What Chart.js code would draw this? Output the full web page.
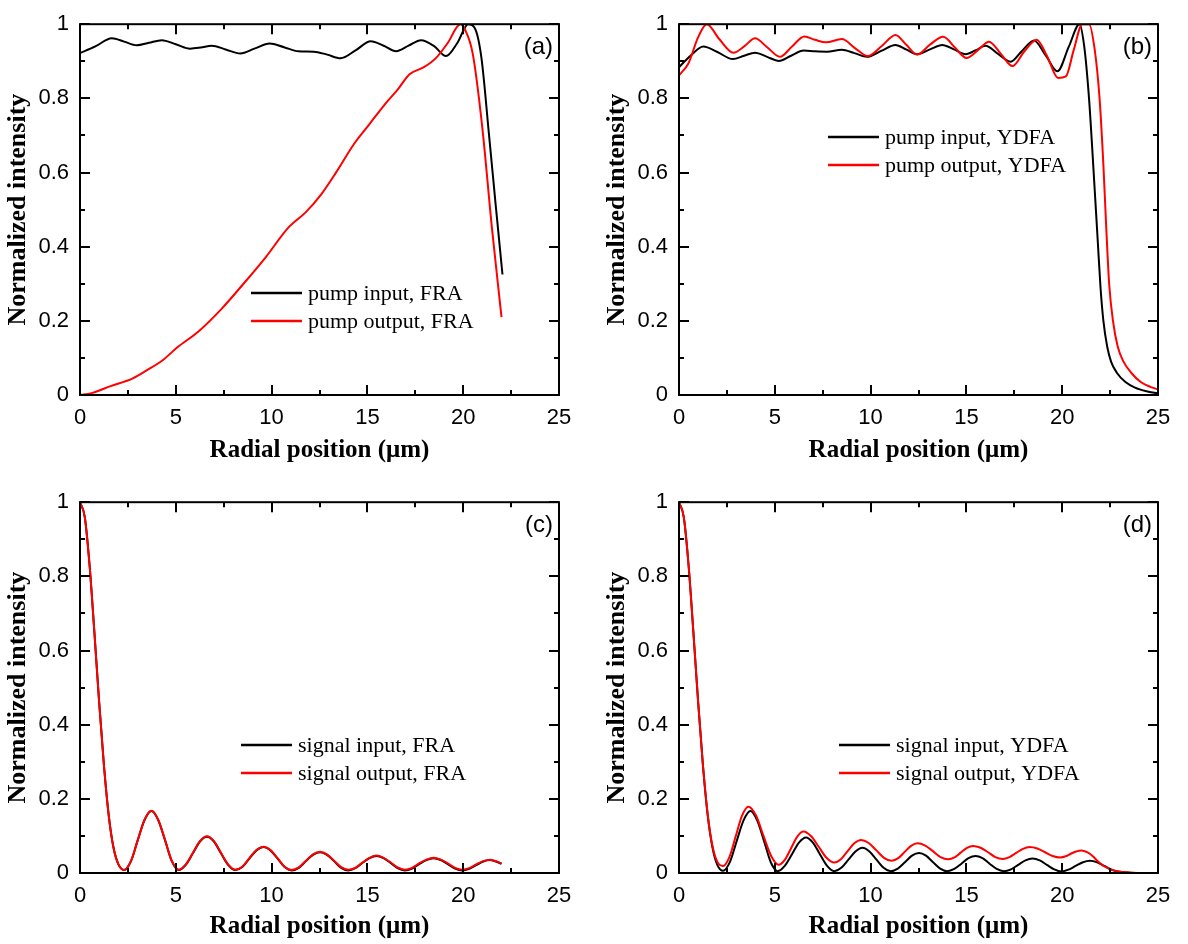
<!DOCTYPE html>
<html>
<head>
<meta charset="utf-8">
<script src="https://cdn.jsdelivr.net/npm/chart.js@4.4.1/dist/chart.umd.min.js"></script>
<style>
  body { margin: 0; background: #fff; }
  #wrap { position: relative; width: 1188px; height: 944px; overflow: hidden; }
  #wrap canvas { position: absolute; }
</style>
</head>
<body>
<div id="wrap">
  <canvas id="chartA" width="594" height="472" style="left:0;top:0"></canvas>
  <canvas id="chartB" width="589" height="472" style="left:599px;top:0"></canvas>
  <canvas id="chartC" width="594" height="466" style="left:0;top:478px"></canvas>
  <canvas id="chartD" width="589" height="466" style="left:599px;top:478px"></canvas>
</div>
<script>
// (a) pump, FRA
const pumpInFraR = [0, 0.8, 1.66, 2.3, 2.96, 3.6, 4.27, 5.0, 5.75, 6.3, 6.88, 7.6, 8.37, 9.1, 9.9, 10.65, 11.4, 12.2, 12.9, 13.6, 14.4, 15.17, 15.85, 16.5, 17.15, 17.8, 18.5, 19.1, 19.7, 20.26, 20.6, 20.95, 21.35, 21.7, 22.05];
const pumpInFra = [0.922, 0.94, 0.962, 0.953, 0.943, 0.95, 0.957, 0.946, 0.934, 0.937, 0.942, 0.932, 0.921, 0.934, 0.948, 0.938, 0.927, 0.926, 0.918, 0.908, 0.93, 0.954, 0.942, 0.927, 0.942, 0.957, 0.94, 0.914, 0.95, 1.0, 0.99, 0.91, 0.7, 0.51, 0.325];
const pumpOutFraR = [0, 0.6, 1.6, 2.76, 3.5, 4.3, 5.07, 6.2, 7.4, 8.5, 9.7, 10.85, 11.8, 12.6, 13.35, 14.3, 15.1, 15.85, 16.6, 17.2, 17.95, 18.6, 19.2, 19.85, 20.1, 20.5, 21.0, 21.5, 22.0];
const pumpOutFra = [0, 0.005, 0.024, 0.045, 0.067, 0.093, 0.128, 0.172, 0.233, 0.298, 0.372, 0.45, 0.494, 0.542, 0.599, 0.677, 0.73, 0.78, 0.825, 0.865, 0.884, 0.91, 0.95, 1.0, 0.985, 0.92, 0.72, 0.45, 0.21];

// (b) pump, YDFA
const pumpInYdfaR = [0, 0.6, 1.27, 2.0, 2.81, 3.4, 3.97, 4.6, 5.2, 5.85, 6.5, 7.1, 7.72, 8.5, 9.15, 9.82, 10.55, 11.3, 11.85, 12.43, 13.1, 13.74, 14.35, 14.96, 15.5, 16.0, 16.65, 17.31, 17.9, 18.53, 19.15, 19.75, 20.35, 20.9, 21.15, 21.4, 21.55, 21.7, 21.85, 22.0, 22.15, 22.35, 22.55, 22.85, 23.3, 23.8, 24.4, 25];
const pumpInYdfa = [0.884, 0.915, 0.94, 0.925, 0.906, 0.915, 0.923, 0.912, 0.901, 0.915, 0.929, 0.927, 0.926, 0.931, 0.922, 0.912, 0.928, 0.944, 0.932, 0.919, 0.932, 0.944, 0.932, 0.919, 0.93, 0.942, 0.92, 0.899, 0.928, 0.956, 0.915, 0.873, 0.94, 1.0, 0.94, 0.8, 0.68, 0.55, 0.42, 0.29, 0.2, 0.13, 0.09, 0.06, 0.035, 0.02, 0.01, 0.004];
const pumpOutYdfaR = [0, 0.49, 1.0, 1.45, 2.1, 2.84, 3.4, 3.97, 4.6, 5.27, 5.9, 6.54, 7.1, 7.67, 8.5, 9.2, 9.85, 10.6, 11.3, 11.85, 12.43, 13.1, 13.79, 14.4, 15.0, 15.6, 16.18, 16.8, 17.4, 18.0, 18.67, 19.2, 19.79, 20.19, 20.6, 21.05, 21.4, 21.7, 21.95, 22.15, 22.3, 22.45, 22.65, 22.9, 23.2, 23.6, 24.1, 24.6, 25];
const pumpOutYdfa = [0.862, 0.894, 0.965, 1.0, 0.96, 0.923, 0.94, 0.962, 0.938, 0.912, 0.94, 0.967, 0.958, 0.951, 0.96, 0.935, 0.914, 0.942, 0.971, 0.945, 0.918, 0.945, 0.966, 0.937, 0.909, 0.93, 0.953, 0.92, 0.887, 0.925, 0.958, 0.915, 0.855, 0.859, 0.93, 1.0, 1.0, 0.93, 0.8, 0.62, 0.45, 0.3, 0.2, 0.13, 0.09, 0.06, 0.035, 0.022, 0.015];

// (c) signal, FRA
const signalFraR = [0, 0.25, 0.5, 0.75, 1.0, 1.25, 1.5, 1.75, 2.0, 2.3,
    2.66, 3.01, 3.37, 3.73, 4.08, 4.44, 4.79, 5.15,
    5.52, 5.89, 6.26, 6.63, 6.99, 7.36, 7.73, 8.1,
    8.47, 8.84, 9.21, 9.58, 9.94, 10.31, 10.68, 11.05,
    11.42, 11.79, 12.16, 12.53, 12.89, 13.26, 13.63, 14.0,
    14.37, 14.74, 15.11, 15.48, 15.84, 16.21, 16.58, 16.95,
    17.33, 17.7, 18.08, 18.45, 18.83, 19.2, 19.58, 19.95,
    20.31, 20.68, 21.04, 21.4, 21.7, 22.0];
const signalInFra = [1.0, 0.96, 0.83, 0.65, 0.46, 0.29, 0.155, 0.068, 0.024, 0.008,
    0.032, 0.088, 0.143, 0.167, 0.143, 0.088, 0.032, 0.008,
    0.022, 0.053, 0.085, 0.098, 0.085, 0.053, 0.022, 0.008,
    0.016, 0.039, 0.061, 0.07, 0.061, 0.039, 0.016, 0.007,
    0.014, 0.032, 0.049, 0.056, 0.049, 0.032, 0.014, 0.007,
    0.013, 0.027, 0.04, 0.046, 0.04, 0.027, 0.013, 0.007,
    0.012, 0.024, 0.035, 0.04, 0.035, 0.024, 0.012, 0.007,
    0.011, 0.021, 0.031, 0.035, 0.031, 0.025];
const signalOutFra = [1.0, 0.96, 0.83, 0.65, 0.46, 0.29, 0.155, 0.068, 0.024, 0.008,
    0.032, 0.088, 0.144, 0.168, 0.144, 0.089, 0.033, 0.009,
    0.023, 0.054, 0.086, 0.099, 0.086, 0.054, 0.023, 0.009,
    0.017, 0.04, 0.062, 0.071, 0.062, 0.04, 0.017, 0.008,
    0.015, 0.033, 0.05, 0.057, 0.05, 0.033, 0.016, 0.009,
    0.014, 0.028, 0.041, 0.047, 0.041, 0.029, 0.015, 0.009,
    0.014, 0.026, 0.036, 0.041, 0.036, 0.026, 0.014, 0.009,
    0.013, 0.023, 0.032, 0.036, 0.032, 0.026];

// (d) signal, YDFA
const signalInYdfaR = [0, 0.25, 0.5, 0.75, 1.0, 1.25, 1.5, 1.75, 2.0, 2.3,
    2.66, 3.01, 3.37, 3.73, 4.08, 4.44, 4.79, 5.15,
    5.52, 5.89, 6.26, 6.63, 6.99, 7.36, 7.73, 8.1,
    8.47, 8.84, 9.21, 9.58, 9.94, 10.31, 10.68, 11.05,
    11.42, 11.79, 12.16, 12.53, 12.89, 13.26, 13.63, 14.0,
    14.37, 14.74, 15.11, 15.48, 15.84, 16.21, 16.58, 16.95,
    17.33, 17.7, 18.08, 18.45, 18.83, 19.2, 19.58, 19.95,
    20.33, 20.7, 21.08, 21.45, 21.82, 22.2, 22.55, 22.9, 23.5, 24.2, 25];
const signalInYdfa = [1.0, 0.96, 0.83, 0.65, 0.46, 0.29, 0.155, 0.068, 0.022, 0.006,
    0.03, 0.086, 0.142, 0.167, 0.142, 0.086, 0.029, 0.005,
    0.019, 0.05, 0.082, 0.096, 0.082, 0.05, 0.019, 0.005,
    0.014, 0.036, 0.058, 0.068, 0.058, 0.036, 0.014, 0.005,
    0.012, 0.029, 0.047, 0.054, 0.047, 0.029, 0.012, 0.005,
    0.011, 0.025, 0.04, 0.046, 0.04, 0.025, 0.011, 0.005,
    0.01, 0.022, 0.034, 0.039, 0.034, 0.022, 0.01, 0.004,
    0.009, 0.019, 0.029, 0.033, 0.029, 0.019, 0.009, 0.004, 0.001, 0, 0];
const signalOutYdfaR = [0, 0.25, 0.5, 0.75, 1.0, 1.25, 1.5, 1.75, 2.0, 2.3,
    2.63, 2.96, 3.29, 3.62, 4.02, 4.41, 4.81, 5.2,
    5.53, 5.85, 6.18, 6.5, 6.9, 7.3, 7.7, 8.1,
    8.45, 8.8, 9.15, 9.5, 9.9, 10.3, 10.7, 11.1,
    11.44, 11.78, 12.11, 12.45, 12.85, 13.25, 13.65, 14.05,
    14.38, 14.7, 15.03, 15.35, 15.74, 16.13, 16.51, 16.9,
    17.25, 17.6, 17.95, 18.3, 18.7, 19.1, 19.5, 19.9,
    20.18, 20.45, 20.73, 21.0, 21.3, 21.6, 21.85, 22.1, 22.4, 22.7, 23.1, 23.6, 24.3, 25];
const signalOutYdfa = [1.0, 0.96, 0.83, 0.65, 0.46, 0.29, 0.157, 0.072, 0.03, 0.019,
    0.043, 0.099, 0.155, 0.179, 0.155, 0.1, 0.046, 0.022,
    0.036, 0.067, 0.099, 0.112, 0.099, 0.07, 0.041, 0.028,
    0.037, 0.059, 0.08, 0.089, 0.081, 0.061, 0.041, 0.033,
    0.04, 0.057, 0.073, 0.08, 0.074, 0.059, 0.043, 0.037,
    0.042, 0.055, 0.068, 0.073, 0.068, 0.056, 0.043, 0.038,
    0.043, 0.054, 0.065, 0.07, 0.066, 0.056, 0.046, 0.042,
    0.045, 0.052, 0.058, 0.061, 0.056, 0.045, 0.032, 0.021, 0.013, 0.007, 0.003, 0.001, 0, 0];

const xTicks = [0, 5, 10, 15, 20, 25];
const yTicks = [0, 0.2, 0.4, 0.6, 0.8, 1];

const sansFont = '"Liberation Sans", Arial, sans-serif';
const serifFont = '"Liberation Serif", "Times New Roman", serif';

const toPoints = (xs, ys) => xs.map((x, i) => ({ x: x, y: ys[i] }));

// frame, inward ticks on all four sides, panel tag and legend
const framePlugin = {
    id: 'frame',
    afterDatasetsDraw(chart, args, opts) {
        const { ctx, chartArea: a } = chart;
        const xs = chart.scales.x, ys = chart.scales.y;
        ctx.save();
        ctx.strokeStyle = '#000';
        ctx.lineWidth = 2;
        ctx.strokeRect(a.left, a.top, a.right - a.left, a.bottom - a.top);
        ctx.beginPath();
        for (let i = 0; i <= 10; i++) {
            const px = Math.round(xs.getPixelForValue(i * 2.5));
            const len = i % 2 === 0 ? 10 : 5;
            ctx.moveTo(px, a.bottom); ctx.lineTo(px, a.bottom - len);
            ctx.moveTo(px, a.top); ctx.lineTo(px, a.top + len);
        }
        for (let i = 0; i <= 10; i++) {
            const py = Math.round(ys.getPixelForValue(i / 10));
            const len = i % 2 === 0 ? 10 : 5;
            ctx.moveTo(a.left, py); ctx.lineTo(a.left + len, py);
            ctx.moveTo(a.right, py); ctx.lineTo(a.right - len, py);
        }
        ctx.stroke();

        ctx.fillStyle = '#000';
        ctx.font = '24px ' + sansFont;
        ctx.textAlign = 'right';
        ctx.textBaseline = 'middle';
        ctx.fillText(opts.tag, a.right - 6, a.top + 23);

        ctx.font = '22px ' + serifFont;
        ctx.textAlign = 'left';
        chart.data.datasets.forEach((ds, i) => {
            const ly = opts.legendY + i * 28;
            ctx.strokeStyle = ds.borderColor;
            ctx.lineWidth = 2.5;
            ctx.beginPath();
            ctx.moveTo(opts.legendX, ly);
            ctx.lineTo(opts.legendX + 51, ly);
            ctx.stroke();
            ctx.fillText(ds.label, opts.legendX + 57, ly + 1);
        });
        ctx.restore();
    }
};

function makePanel(id, cfg) {
    const series = (label, color, pts, order) => ({
        label: label,
        data: pts,
        borderColor: color,
        borderWidth: 2,
        pointRadius: 0,
        fill: false,
        cubicInterpolationMode: 'monotone',
        order: order
    });
    new Chart(document.getElementById(id), {
        type: 'line',
        data: {
            datasets: [
                series(cfg.labels[0], '#000000', cfg.input, 1),
                series(cfg.labels[1], '#ff0000', cfg.output, 0)
            ]
        },
        plugins: [framePlugin],
        options: {
            responsive: false,
            animation: false,
            events: [],
            layout: { padding: { top: 13, right: cfg.rightPad, bottom: 0, left: 0 } },
            plugins: {
                legend: { display: false },
                tooltip: { enabled: false },
                frame: { tag: cfg.tag, legendX: cfg.legendX, legendY: cfg.legendY }
            },
            scales: {
                x: {
                    type: 'linear',
                    min: 0,
                    max: 25,
                    afterFit: (s) => { s.height = cfg.xAxisHeight; },
                    afterBuildTicks: (s) => { s.ticks = xTicks.map(v => ({ value: v })); },
                    grid: { display: false, drawTicks: false },
                    border: { display: false },
                    ticks: {
                        autoSkip: false,
                        maxRotation: 0,
                        padding: 10,
                        color: '#000',
                        font: { family: sansFont, size: 22 }
                    },
                    title: {
                        display: true,
                        text: 'Radial position (μm)',
                        color: '#000',
                        font: { family: serifFont, size: 25, weight: 'bold' },
                        padding: { top: 0, bottom: cfg.titlePad }
                    }
                },
                y: {
                    min: 0,
                    max: 1,
                    afterFit: (s) => { s.width = 80; },
                    afterBuildTicks: (s) => { s.ticks = yTicks.map(v => ({ value: v })); },
                    grid: { display: false, drawTicks: false },
                    border: { display: false },
                    ticks: {
                        padding: 11,
                        color: '#000',
                        font: { family: sansFont, size: 22 },
                        callback: (v) => String(Number(v.toFixed(1)))
                    },
                    title: {
                        display: true,
                        text: 'Normalized intensity',
                        color: '#000',
                        font: { family: serifFont, size: 26, weight: 'bold' },
                        padding: { top: 3, bottom: 0 }
                    }
                }
            }
        }
    });
}

makePanel('chartA', {
    tag: '(a)',
    labels: ['pump input, FRA', 'pump output, FRA'],
    input: toPoints(pumpInFraR, pumpInFra),
    output: toPoints(pumpOutFraR, pumpOutFra),
    rightPad: 35, xAxisHeight: 77, titlePad: 6,
    legendX: 251, legendY: 293
});
makePanel('chartB', {
    tag: '(b)',
    labels: ['pump input, YDFA', 'pump output, YDFA'],
    input: toPoints(pumpInYdfaR, pumpInYdfa),
    output: toPoints(pumpOutYdfaR, pumpOutYdfa),
    rightPad: 30, xAxisHeight: 77, titlePad: 6,
    legendX: 229, legendY: 137
});
makePanel('chartC', {
    tag: '(c)',
    labels: ['signal input, FRA', 'signal output, FRA'],
    input: toPoints(signalFraR, signalInFra),
    output: toPoints(signalFraR, signalOutFra),
    rightPad: 35, xAxisHeight: 71, titlePad: 2,
    legendX: 241, legendY: 267
});
makePanel('chartD', {
    tag: '(d)',
    labels: ['signal input, YDFA', 'signal output, YDFA'],
    input: toPoints(signalInYdfaR, signalInYdfa),
    output: toPoints(signalOutYdfaR, signalOutYdfa),
    rightPad: 30, xAxisHeight: 71, titlePad: 2,
    legendX: 240, legendY: 267
});
</script>
</body>
</html>
